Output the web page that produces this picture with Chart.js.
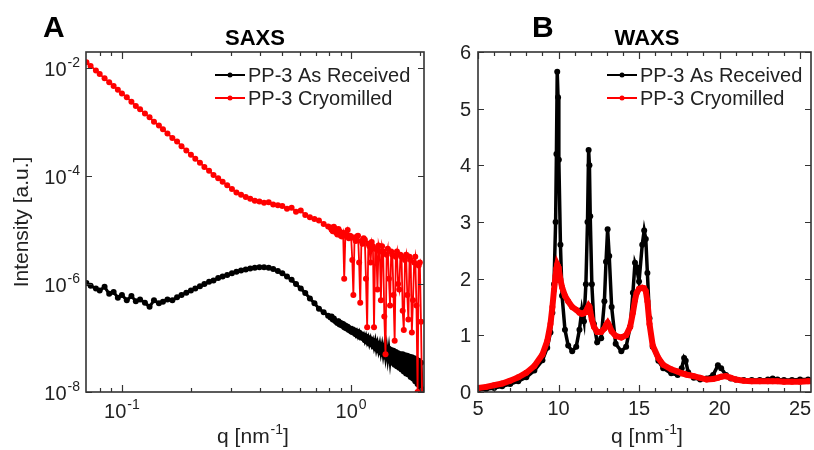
<!DOCTYPE html>
<html>
<head>
<meta charset="utf-8">
<script src="https://cdn.jsdelivr.net/npm/chart.js@4.4.0/dist/chart.umd.min.js"></script>
<style>
  body { margin: 0; background: #fff; width: 814px; height: 450px; overflow: hidden; position: relative; }
  canvas { position: absolute; top: 0; }
  #saxs { left: 0; }
  #waxs { left: 432px; }
</style>
</head>
<body>
<canvas id="saxs" width="432" height="450"></canvas>
<canvas id="waxs" width="382" height="450"></canvas>
<script>
// ---- data ----
const seriesNames = ['PP-3 As Received', 'PP-3 Cryomilled'];
const seriesColors = ['#000000', '#ff0000'];

// SAXS, q in nm^-1
const qSaxs = [
  0.070, 0.073, 0.077, 0.080, 0.084, 0.088, 0.092, 0.096, 0.100, 0.105,
  0.110, 0.115, 0.120, 0.126, 0.132, 0.138, 0.145, 0.151, 0.158, 0.166,
  0.174, 0.182, 0.191, 0.200, 0.209, 0.219, 0.229, 0.240, 0.251, 0.263,
  0.275, 0.288, 0.302, 0.316, 0.331, 0.347, 0.363, 0.380, 0.398, 0.417,
  0.437, 0.457, 0.479, 0.501, 0.525, 0.550, 0.575, 0.603, 0.631, 0.661,
  0.692, 0.724, 0.759, 0.794,
  0.813, 0.822, 0.832, 0.841, 0.851, 0.861, 0.871, 0.881, 0.891, 0.902,
  0.912, 0.923, 0.933, 0.944, 0.955, 0.966, 0.977, 0.989, 1.000, 1.012,
  1.023, 1.035, 1.047, 1.059, 1.072, 1.084, 1.096, 1.109, 1.122, 1.135,
  1.148, 1.161, 1.175, 1.189, 1.202, 1.216, 1.230, 1.245, 1.259, 1.274,
  1.288, 1.303, 1.318, 1.334, 1.349, 1.365, 1.380, 1.396, 1.413, 1.429,
  1.445, 1.462, 1.479, 1.496, 1.514, 1.531, 1.549, 1.567, 1.585, 1.603,
  1.622, 1.641, 1.660, 1.679, 1.698, 1.718, 1.738, 1.758, 1.778, 1.799,
  1.820, 1.841, 1.862, 1.884, 1.905, 1.928, 1.950, 1.972, 1.995, 2.018, 2.042
];
const saxsReceived = [
  1.05e-6, 9.3e-7, 8.3e-7, 7.6e-7, 8.9e-7, 6.6e-7, 7.1e-7, 5.6e-7, 6.3e-7, 5.0e-7,
  6.0e-7, 4.8e-7, 5.2e-7, 4.5e-7, 3.8e-7, 5.0e-7, 4.4e-7, 4.7e-7, 5.2e-7, 5.0e-7,
  5.7e-7, 6.3e-7, 6.9e-7, 7.6e-7, 8.3e-7, 9.1e-7, 1.0e-6, 1.1e-6, 1.17e-6, 1.29e-6,
  1.38e-6, 1.48e-6, 1.58e-6, 1.7e-6, 1.78e-6, 1.86e-6, 1.95e-6, 2.0e-6, 2.04e-6, 2.04e-6,
  2.0e-6, 1.9e-6, 1.74e-6, 1.58e-6, 1.38e-6, 1.2e-6, 1.0e-6, 8.3e-7, 6.8e-7, 5.4e-7,
  4.4e-7, 3.5e-7, 3.0e-7, 2.6e-7,
  2.4e-7, 2.5e-7, 2.2e-7, 2.3e-7, 2.1e-7, 2.0e-7, 1.9e-7, 2.04e-7, 1.78e-7, 1.9e-7,
  1.7e-7, 1.82e-7, 1.58e-7, 1.7e-7, 1.51e-7, 1.62e-7, 1.41e-7, 1.51e-7, 1.32e-7, 1.45e-7,
  1.26e-7, 1.38e-7, 1.17e-7, 1.32e-7, 1.1e-7, 1.26e-7, 1.05e-7, 1.17e-7, 1.0e-7, 1.12e-7,
  9.1e-8, 1.07e-7, 8.5e-8, 1.0e-7, 7.9e-8, 9.5e-8, 7.6e-8, 8.9e-8, 6.9e-8, 8.7e-8,
  6.3e-8, 7.9e-8, 5.9e-8, 7.6e-8, 5.4e-8, 7.2e-8, 5.0e-8, 6.9e-8, 4.5e-8, 6.6e-8,
  4.2e-8, 6.3e-8, 3.8e-8, 6.0e-8, 3.5e-8, 5.8e-8, 3.2e-8, 5.5e-8, 3.0e-8, 5.2e-8,
  2.8e-8, 5.0e-8, 2.6e-8, 5.0e-8, 2.4e-8, 4.8e-8, 2.2e-8, 4.7e-8, 2.1e-8, 4.5e-8,
  1.9e-8, 4.4e-8, 1.78e-8, 4.2e-8, 1.58e-8, 4.0e-8, 1.41e-8, 3.8e-8, 1.26e-8, 3.5e-8, 1.12e-8
];
const saxsMilled = [
  1.29e-2, 1.10e-2, 9.1e-3, 7.8e-3, 6.5e-3, 5.5e-3, 4.7e-3, 4.0e-3, 3.4e-3, 2.9e-3,
  2.4e-3, 2.0e-3, 1.74e-3, 1.45e-3, 1.23e-3, 1.02e-3, 8.7e-4, 7.4e-4, 6.2e-4, 5.1e-4,
  4.4e-4, 3.6e-4, 3.0e-4, 2.5e-4, 2.1e-4, 1.78e-4, 1.48e-4, 1.26e-4, 1.05e-4, 9.1e-5,
  7.9e-5, 6.8e-5, 5.8e-5, 5.0e-5, 4.5e-5, 4.1e-5, 3.8e-5, 3.5e-5, 3.4e-5, 3.2e-5,
  3.3e-5, 3.0e-5, 2.9e-5, 2.8e-5, 2.5e-5, 2.6e-5, 2.2e-5, 2.3e-5, 1.9e-5, 1.74e-5,
  1.6e-5, 1.5e-5, 1.3e-5, 1.17e-5,
  1.12e-5, 1.02e-5, 9.5e-6, 1.15e-5, 1.07e-5, 8.9e-6, 8.3e-6, 1.05e-5, 9.5e-6, 7.9e-6,
  7.6e-6, 8.9e-6, 1.26e-6, 7.9e-6, 8.3e-6, 1.0e-5, 7.1e-6, 7.9e-6, 7.6e-6, 2.8e-6,
  6.3e-7, 7.1e-6, 6.3e-6, 7.6e-6, 7.9e-6, 2.5e-6, 4.5e-7, 6.3e-6, 5.6e-6, 7.1e-6,
  6.6e-6, 1.26e-6, 1.58e-7, 5.6e-6, 5.0e-6, 2.5e-6, 6.0e-6, 5.0e-6, 1.58e-7, 4.5e-6,
  4.5e-6, 7.9e-7, 5.2e-6, 4.0e-6, 5.0e-7, 5.0e-6, 4.0e-6, 2.5e-7, 5.0e-8, 3.5e-6,
  4.5e-6, 1.26e-6, 4.0e-7, 4.0e-6, 3.5e-6, 6.3e-7, 8.9e-8, 3.2e-6, 4.0e-6, 1.0e-6,
  7.9e-7, 3.5e-6, 3.2e-6, 3.2e-7, 1.41e-7, 2.8e-6, 3.5e-6, 6.3e-7, 2.2e-7, 3.2e-6,
  2.8e-6, 1.26e-7, 5.0e-7, 2.5e-6, 3.2e-6, 4.0e-7, 1.0e-8, 2.2e-6, 2.5e-6, 2.0e-7, 6.3e-9
];

// WAXS, q in nm^-1
const qWaxs = [
  5.0, 5.5, 6.0, 6.5, 7.0, 7.5, 8.0, 8.5, 9.0, 9.3,
  9.5, 9.62, 9.72, 9.82, 9.87, 9.92, 9.97, 10.02, 10.12, 10.22,
  10.4, 10.6, 10.85, 11.1, 11.3, 11.45, 11.58, 11.7, 11.8, 11.87,
  11.92, 11.97, 12.07, 12.2, 12.4, 12.65, 12.85, 12.95, 13.05, 13.15,
  13.3, 13.55, 13.9, 14.2, 14.45, 14.62, 14.75, 14.85, 15.0, 15.2,
  15.32, 15.42, 15.52, 15.65, 15.85, 16.2, 16.5, 17.0, 17.4, 17.65,
  17.8, 17.9, 18.05, 18.4, 18.8, 19.2, 19.6, 19.9, 20.1, 20.4,
  20.7, 21.0, 21.5, 22.0, 22.5, 23.0, 23.3, 23.6, 24.0, 24.5,
  25.0, 25.5, 26.0
];
const waxsReceived = [
  0.04, 0.05, 0.07, 0.10, 0.14, 0.19, 0.26, 0.38, 0.56, 0.78,
  1.05, 1.4, 1.9, 3.0, 4.2, 5.65, 5.2, 4.1, 2.6, 1.7,
  1.1, 0.82, 0.72, 0.8, 1.1, 1.45, 1.25, 1.9, 3.0, 4.27,
  4.0, 3.1, 1.9, 1.2, 0.88, 0.95, 1.6, 2.3, 2.87, 2.4,
  1.5, 0.85, 0.72, 0.8, 1.15, 1.75, 2.28, 2.2, 1.95, 2.6,
  2.85, 2.7, 2.1, 1.3, 0.8, 0.55, 0.42, 0.33, 0.3, 0.42,
  0.6, 0.55, 0.35, 0.25, 0.22, 0.24, 0.3, 0.47, 0.42, 0.3,
  0.24, 0.22, 0.21, 0.21, 0.21, 0.22, 0.24, 0.22, 0.21, 0.21,
  0.22, 0.22, 0.22
];
const waxsMilled = [
  0.07, 0.09, 0.12, 0.15, 0.2, 0.26, 0.34, 0.46, 0.66, 0.9,
  1.2, 1.5, 1.8, 2.05, 2.18, 2.25, 2.22, 2.15, 1.98, 1.85,
  1.7, 1.6, 1.5, 1.45, 1.4, 1.38, 1.39, 1.42, 1.48, 1.52,
  1.5, 1.42, 1.28, 1.15, 1.06, 1.06, 1.12, 1.18, 1.22, 1.17,
  1.07, 0.99, 0.96, 1.0, 1.15, 1.4, 1.62, 1.75, 1.82, 1.84,
  1.83, 1.78, 1.6, 1.2, 0.82, 0.6, 0.48, 0.4, 0.36, 0.33,
  0.32, 0.31, 0.3, 0.28, 0.25, 0.22, 0.23, 0.25, 0.27, 0.28,
  0.25, 0.22, 0.2, 0.19, 0.19, 0.19, 0.19, 0.19, 0.18, 0.18,
  0.18, 0.19, 0.19
];

// tick values
const saxsXMajor = [0.1, 1];
const saxsXMinor = [0.08, 0.09, 0.2, 0.3, 0.4, 0.5, 0.6, 0.7, 0.8, 0.9, 2];
const saxsXLabels = [[0.1, '-1'], [1, '0']];
const saxsYLabels = [[1e-2, '-2'], [1e-4, '-4'], [1e-6, '-6'], [1e-8, '-8']];
const waxsXMajor = [5, 10, 15, 20, 25];
const waxsXMinor = [6, 7, 8, 9, 11, 12, 13, 14, 16, 17, 18, 19, 21, 22, 23, 24];
const waxsYMajor = [0, 1, 2, 3, 4, 5, 6];

const FONT = '"Liberation Sans", Arial, Helvetica, sans-serif';

function pts(xs, ys) {
  return xs.map((x, i) => ({ x: x, y: ys[i] }));
}

// text with optional superscript parts
function rich(ctx, parts, x, y, align, size) {
  const supSize = Math.round(size * 0.68);
  let w = 0;
  const widths = parts.map(p => {
    ctx.font = (p.sup ? supSize : size) + 'px ' + FONT;
    const ww = ctx.measureText(p.t).width + (p.sup ? 1 : 0);
    w += ww;
    return ww;
  });
  let cx = align === 'right' ? x - w : align === 'center' ? x - w / 2 : x;
  ctx.textAlign = 'left';
  ctx.textBaseline = 'alphabetic';
  parts.forEach((p, i) => {
    ctx.font = (p.sup ? supSize : size) + 'px ' + FONT;
    ctx.fillText(p.t, cx + (p.sup ? 1 : 0), p.sup ? y - size * 0.45 : y);
    cx += widths[i];
  });
}

function frame(chart, xMaj, xMin, yMaj, yMin) {
  const { ctx, chartArea: a, scales } = chart;
  ctx.save();
  ctx.strokeStyle = '#333';
  ctx.lineWidth = 1.2;
  ctx.beginPath();
  const seg = (x1, y1, x2, y2) => { ctx.moveTo(x1, y1); ctx.lineTo(x2, y2); };
  const xt = (vals, len) => vals.forEach(v => {
    const p = Math.round(scales.x.getPixelForValue(v)) + 0.5;
    seg(p, a.bottom, p, a.bottom - len);
    seg(p, a.top, p, a.top + len);
  });
  const yt = (vals, len) => vals.forEach(v => {
    const p = Math.round(scales.y.getPixelForValue(v)) + 0.5;
    seg(a.left, p, a.left + len, p);
    seg(a.right, p, a.right - len, p);
  });
  xt(xMaj, 7); xt(xMin, 4); yt(yMaj, 6); yt(yMin, 3);
  ctx.stroke();
  ctx.lineWidth = 1.6;
  ctx.strokeRect(a.left, a.top, a.right - a.left, a.bottom - a.top);
  ctx.restore();
}

function legend(ctx, x, y0) {
  seriesNames.forEach((n, i) => {
    const y = y0 + i * 23;
    ctx.strokeStyle = seriesColors[i];
    ctx.fillStyle = seriesColors[i];
    ctx.lineWidth = 2;
    ctx.beginPath(); ctx.moveTo(x, y); ctx.lineTo(x + 30, y); ctx.stroke();
    ctx.beginPath(); ctx.arc(x + 15, y, 2.5, 0, Math.PI * 2); ctx.fill();
    ctx.fillStyle = '#222';
    ctx.font = '20px ' + FONT;
    ctx.textAlign = 'left';
    ctx.textBaseline = 'alphabetic';
    ctx.fillText(n, x + 33, y + 7);
  });
}

function panelTitles(ctx, letter, lx, title, tx) {
  ctx.fillStyle = '#000';
  ctx.textBaseline = 'alphabetic';
  ctx.textAlign = 'left';
  ctx.font = 'bold 30px ' + FONT;
  ctx.fillText(letter, lx, 37);
  ctx.textAlign = 'center';
  ctx.font = 'bold 22px ' + FONT;
  ctx.fillText(title, tx, 45);
}

const saxsDecor = {
  id: 'saxsDecor',
  afterDatasetsDraw(chart) {
    const { ctx, chartArea: a, scales } = chart;
    frame(chart, saxsXMajor, saxsXMinor, saxsYLabels.map(l => l[0]), []);
    ctx.save();
    ctx.fillStyle = '#222';
    saxsXLabels.forEach(l => rich(ctx, [{ t: '10' }, { t: l[1], sup: true }], scales.x.getPixelForValue(l[0]), 418, 'center', 20));
    saxsYLabels.forEach(l => rich(ctx, [{ t: '10' }, { t: l[1], sup: true }], a.left - 6, scales.y.getPixelForValue(l[0]) + 8, 'right', 20));
    rich(ctx, [{ t: 'q [nm' }, { t: '-1', sup: true }, { t: ']' }], 253, 443, 'center', 21);
    ctx.save();
    ctx.translate(28, 222);
    ctx.rotate(-Math.PI / 2);
    ctx.font = '21px ' + FONT;
    ctx.textAlign = 'center';
    ctx.fillText('Intensity [a.u.]', 0, 0);
    ctx.restore();
    legend(ctx, 215, 75);
    panelTitles(ctx, 'A', 43, 'SAXS', 255);
    ctx.restore();
  }
};

const waxsDecor = {
  id: 'waxsDecor',
  afterDatasetsDraw(chart) {
    const { ctx, chartArea: a, scales } = chart;
    frame(chart, waxsXMajor, waxsXMinor, waxsYMajor, []);
    ctx.save();
    ctx.fillStyle = '#222';
    ctx.font = '20px ' + FONT;
    ctx.textAlign = 'center';
    ctx.textBaseline = 'alphabetic';
    waxsXMajor.forEach(v => ctx.fillText(String(v), scales.x.getPixelForValue(v), 415));
    ctx.textAlign = 'right';
    waxsYMajor.forEach(v => ctx.fillText(String(v), a.left - 7, scales.y.getPixelForValue(v) + 7));
    rich(ctx, [{ t: 'q [nm' }, { t: '-1', sup: true }, { t: ']' }], 215, 443, 'center', 21);
    legend(ctx, 175, 75);
    panelTitles(ctx, 'B', 100, 'WAXS', 215);
    ctx.restore();
  }
};

function dataset(label, data, color, width, radius, order) {
  return {
    label: label, data: data, showLine: true,
    borderColor: color, backgroundColor: color,
    borderWidth: width, pointRadius: radius, pointBorderWidth: 0,
    pointHoverRadius: 0, tension: 0, clip: 0, order: order
  };
}

function baseOptions(padding, x, y) {
  return {
    responsive: false,
    animation: false,
    events: [],
    layout: { padding: padding },
    plugins: { legend: { display: false }, tooltip: { enabled: false } },
    scales: { x: Object.assign({ display: false }, x), y: Object.assign({ display: false }, y) }
  };
}

new Chart(document.getElementById('saxs'), {
  type: 'scatter',
  data: {
    datasets: [
      dataset(seriesNames[0], pts(qSaxs, saxsReceived), seriesColors[0], 3, 3, 1),
      dataset(seriesNames[1], pts(qSaxs, saxsMilled), seriesColors[1], 1.8, 3, 0)
    ]
  },
  options: baseOptions({ left: 86, top: 52, right: 8, bottom: 58 },
    { type: 'logarithmic', min: 0.0697, max: 2.08 },
    { type: 'logarithmic', min: 1e-8, max: 2e-2 }),
  plugins: [saxsDecor]
});

new Chart(document.getElementById('waxs'), {
  type: 'scatter',
  data: {
    datasets: [
      dataset(seriesNames[0], pts(qWaxs, waxsReceived), seriesColors[0], 3.5, 3, 1),
      dataset(seriesNames[1], pts(qWaxs, waxsMilled), seriesColors[1], 6, 3, 0)
    ]
  },
  options: baseOptions({ left: 46, top: 52, right: 0, bottom: 58 },
    { type: 'linear', min: 5, max: 25.68 },
    { type: 'linear', min: 0, max: 6 }),
  plugins: [waxsDecor]
});
</script>
</body>
</html>
